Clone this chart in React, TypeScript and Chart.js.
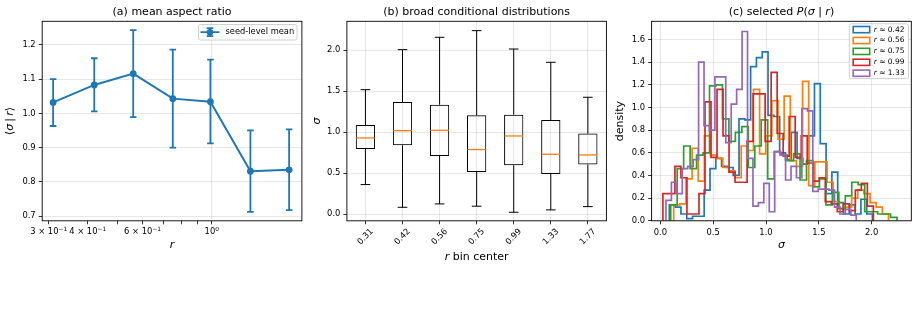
import React, { useEffect, useRef } from "react";
import { Chart, registerables } from "chart.js";

Chart.register(...registerables);

const FIG_W = 917;
const FIG_H = 317;
const FONT = "'DejaVu Sans', 'Noto Sans', sans-serif";
const TICK_SIZE = 8.4;
const LABEL_SIZE = 11;
const GRID = "rgba(176,176,176,0.38)";
const AXIS_W = 40; // room reserved for each y axis
const AXIS_H = 30; // room reserved for each x axis

const TAB_BLUE = "#1f77b4";
const TAB_ORANGE = "#ff7f0e";
const TAB_GREEN = "#2ca02c";
const TAB_RED = "#d62728";
const TAB_PURPLE = "#9467bd";

// ---- (a) mean aspect ratio per r bin ----
const rCenters = [0.31, 0.42, 0.56, 0.75, 0.99, 1.33, 1.77];
const meanSigma = [1.032, 1.083, 1.116, 1.043, 1.034, 0.831, 0.835];
const meanLow = [0.963, 1.006, 0.989, 0.9, 0.912, 0.712, 0.717];
const meanHigh = [1.1, 1.161, 1.243, 1.186, 1.157, 0.95, 0.953];
const rTicks = [0.3, 0.4, 0.5, 0.6, 0.7, 0.8, 0.9, 1.0];
// tick labels as mantissa and power of ten ("" = unlabelled minor tick)
const rTickMantissa = ["3 × 10", "4 × 10", "", "6 × 10", "", "", "", "10"];
const rTickPower = ["−1", "−1", "", "−1", "", "", "", "0"];
const meanTicks = [0.7, 0.8, 0.9, 1.0, 1.1, 1.2];

// ---- (b) conditional distributions ----
const binLabels = ["0.31", "0.42", "0.56", "0.75", "0.99", "1.33", "1.77"];
const boxMin = [0.362, 0.085, 0.126, 0.098, 0.024, 0.053, 0.093];
const boxQ1 = [0.797, 0.841, 0.711, 0.516, 0.598, 0.492, 0.606];
const boxMedian = [0.931, 1.02, 1.024, 0.789, 0.955, 0.732, 0.724];
const boxQ3 = [1.089, 1.37, 1.337, 1.207, 1.215, 1.15, 0.984];
const boxMax = [1.52, 2.008, 2.159, 2.24, 2.016, 1.854, 1.427];
const sigmaTicksB = [0, 0.5, 1.0, 1.5, 2.0];

// ---- (c) selected P(sigma | r): 35 equal bins between each sample's min and max ----
const histLabels = ["0.42", "0.56", "0.75", "0.99", "1.33"];
const histLo = [0.085, 0.126, 0.098, 0.024, 0.053];
const histHi = [2.008, 2.159, 2.24, 2.016, 1.854];
const densR042 = [0.14, 0.12, 0.06, 0.02, 0.04, 0.04, 0.27, 0.46, 0.55, 0.48, 0.47, 0.4, 0.9, 0.89, 1.36, 1.44, 1.49, 0.93, 0.92, 0.6, 0.54, 0.78, 0.55, 0.5, 0.75, 1.21, 0.68, 0.24, 0.43, 0.16, 0.06, 0.14, 0.06, 0.19, 0.06];
const densR056 = [0.14, 0.15, 0.37, 0.64, 0.35, 0.75, 0.58, 0.55, 0.47, 0.44, 0.38, 0.66, 0.62, 1.16, 0.59, 0.75, 1.06, 0.72, 1.1, 0.53, 0.48, 1.23, 0.31, 0.52, 0.52, 0.34, 0.17, 0.1, 0.12, 0.2, 0.27, 0.24, 0.16, 0.12, 0.06];
const densR075 = [0.14, 0.46, 0.66, 0.46, 0.58, 0.6, 1.19, 1.2, 0.9, 0.7, 0.78, 0.83, 0.47, 0.66, 0.89, 0.37, 0.61, 0.58, 0.53, 0.59, 0.36, 0.53, 0.3, 0.37, 0.14, 0.25, 0.11, 0.22, 0.34, 0.32, 0.08, 0.08, 0.06, 0.06, 0.03];
const densR099 = [0.24, 0.24, 0.48, 0.38, 0.06, 0.06, 0.24, 1.05, 0.56, 1.16, 0.75, 0.43, 0.34, 0.34, 0.7, 1.12, 1.12, 0.7, 1.31, 0.77, 0.57, 0.92, 0.56, 0.75, 0.51, 0.35, 0.38, 0.17, 0.15, 0.08, 0.15, 0.09, 0.27, 0.33, 0.13];
const densR133 = [0.18, 0.34, 0.24, 0.46, 0.48, 0.54, 1.4, 0.84, 0.8, 1.27, 1.27, 0.69, 1.03, 1.16, 1.67, 0.55, 0.13, 0.16, 0.33, 0.08, 0.61, 0.58, 0.36, 0.48, 0.38, 0.99, 0.97, 0.26, 0.28, 0.28, 0.27, 0.12, 0.06, 0.1, 0.05];
const histDensities = [densR042, densR056, densR075, densR099, densR133];
const histColors = [TAB_BLUE, TAB_ORANGE, TAB_GREEN, TAB_RED, TAB_PURPLE];
const sigmaTicksC = [0, 0.5, 1.0, 1.5, 2.0];
const densityTicks = [0, 0.2, 0.4, 0.6, 0.8, 1.0, 1.2, 1.4, 1.6];

// plot rectangles of the three panels (page pixels)
type Area = { left: number; top: number; right: number; bottom: number };
const AREA_A: Area = { left: 42.2, top: 21.3, right: 301.9, bottom: 220.8 };
const AREA_B: Area = { left: 346.9, top: 21.3, right: 606.4, bottom: 220.8 };
const AREA_C: Area = { left: 651.6, top: 21.3, right: 911.3, bottom: 220.8 };

type Run = { t: string; i?: boolean; sup?: boolean };

function drawRuns(
  ctx: CanvasRenderingContext2D,
  runs: Run[],
  x: number,
  y: number,
  size: number,
  opts: { align?: "center" | "left"; rotate?: number; baseline?: CanvasTextBaseline } = {}
) {
  ctx.save();
  const sizeOf = (r: Run) => (r.sup ? size * 0.7 : size);
  const fontOf = (r: Run) => `${r.i ? "italic " : ""}${sizeOf(r)}px ${FONT}`;
  let total = 0;
  const widths = runs.map((r) => {
    ctx.font = fontOf(r);
    const w = ctx.measureText(r.t).width;
    total += w;
    return w;
  });
  ctx.translate(x, y);
  if (opts.rotate) ctx.rotate(opts.rotate);
  ctx.textAlign = "left";
  ctx.textBaseline = opts.baseline ?? "alphabetic";
  ctx.fillStyle = "#000";
  let cx = opts.align === "left" ? 0 : -total / 2;
  runs.forEach((r, k) => {
    ctx.font = fontOf(r);
    ctx.fillText(r.t, cx, r.sup ? -size * 0.42 : 0);
    cx += widths[k];
  });
  ctx.restore();
}

function drawFrame(ctx: CanvasRenderingContext2D, a: Area) {
  ctx.save();
  ctx.strokeStyle = "#000";
  ctx.lineWidth = 0.9;
  ctx.strokeRect(a.left, a.top, a.right - a.left, a.bottom - a.top);
  ctx.restore();
}

function legendBox(ctx: CanvasRenderingContext2D, x: number, y: number, w: number, h: number) {
  const r = 2;
  ctx.save();
  ctx.beginPath();
  ctx.moveTo(x + r, y);
  ctx.lineTo(x + w - r, y);
  ctx.quadraticCurveTo(x + w, y, x + w, y + r);
  ctx.lineTo(x + w, y + h - r);
  ctx.quadraticCurveTo(x + w, y + h, x + w - r, y + h);
  ctx.lineTo(x + r, y + h);
  ctx.quadraticCurveTo(x, y + h, x, y + h - r);
  ctx.lineTo(x, y + r);
  ctx.quadraticCurveTo(x, y, x + r, y);
  ctx.closePath();
  ctx.fillStyle = "rgba(255,255,255,0.85)";
  ctx.fill();
  ctx.strokeStyle = "#d0d0d0";
  ctx.lineWidth = 1;
  ctx.stroke();
  ctx.restore();
}

function layoutFor(a: Area) {
  return {
    autoPadding: false,
    padding: {
      left: a.left - AXIS_W,
      top: a.top,
      right: FIG_W - a.right,
      bottom: FIG_H - a.bottom - AXIS_H,
    },
  };
}

function axis(kind: "x" | "y", type: string, ticks: number[] | null, fmt: (v: number, i: number) => string, gridColor: any = GRID) {
  const cfg: any = {
    type,
    afterFit: (s: any) => {
      if (kind === "y") s.width = AXIS_W;
      else s.height = AXIS_H;
      s.paddingLeft = 0;
      s.paddingRight = 0;
      s.paddingTop = 0;
      s.paddingBottom = 0;
    },
    border: { display: false },
    grid: {
      color: gridColor,
      lineWidth: 0.8,
      drawTicks: true,
      tickLength: 3.5,
      tickColor: "#000",
      tickWidth: 0.8,
    },
    ticks: {
      autoSkip: false,
      maxRotation: 0,
      minRotation: 0,
      padding: 3,
      color: "#000",
      font: { family: FONT, size: TICK_SIZE },
      callback: (v: any, i: number) => fmt(Number(v), i),
    },
  };
  if (ticks) {
    cfg.afterBuildTicks = (s: any) => {
      s.ticks = ticks.map((v) => ({ value: v }));
    };
  }
  return cfg;
}

function stepOutline(lo: number, hi: number, dens: number[]) {
  const n = dens.length;
  const edge = (k: number) => lo + ((hi - lo) * k) / n;
  const pts = [{ x: edge(0), y: 0 }];
  dens.forEach((d, k) => {
    pts.push({ x: edge(k), y: d }, { x: edge(k + 1), y: d });
  });
  pts.push({ x: edge(n), y: 0 });
  return pts;
}

const baseOptions = {
  responsive: false,
  animation: false as const,
  devicePixelRatio: 1,
  events: [] as any[],
  plugins: { legend: { display: false }, tooltip: { enabled: false }, title: { display: false } },
};

// ---------------- panel (a) ----------------
const ERR_CAP = 3.3;
const panelAPlugin = {
  id: "panelA",
  beforeDatasetsDraw(chart: any) {
    const { ctx } = chart;
    const x = chart.scales.x;
    const y = chart.scales.y;
    ctx.save();
    ctx.strokeStyle = TAB_BLUE;
    ctx.lineWidth = 1.8;
    rCenters.forEach((r, i) => {
      const px = x.getPixelForValue(r);
      const lo = y.getPixelForValue(meanLow[i]);
      const hi = y.getPixelForValue(meanHigh[i]);
      ctx.beginPath();
      ctx.moveTo(px, lo);
      ctx.lineTo(px, hi);
      ctx.moveTo(px - ERR_CAP, lo);
      ctx.lineTo(px + ERR_CAP, lo);
      ctx.moveTo(px - ERR_CAP, hi);
      ctx.lineTo(px + ERR_CAP, hi);
      ctx.stroke();
    });
    ctx.restore();
  },
  afterDraw(chart: any) {
    const { ctx, chartArea: a } = chart;
    const x = chart.scales.x;
    drawFrame(ctx, a);
    const cx = (a.left + a.right) / 2;
    const cy = (a.top + a.bottom) / 2;
    // log-axis tick labels with raised exponents
    rTicks.forEach((v, i) => {
      if (!rTickMantissa[i]) return;
      drawRuns(ctx, [{ t: rTickMantissa[i] }, { t: rTickPower[i], sup: true }], x.getPixelForValue(v), a.bottom + 13.4, TICK_SIZE);
    });
    drawRuns(ctx, [{ t: "(a) mean aspect ratio" }], cx, a.top - 6.8, LABEL_SIZE);
    drawRuns(ctx, [{ t: "r", i: true }], cx, a.bottom + 27, LABEL_SIZE);
    drawRuns(
      ctx,
      [{ t: "⟨" }, { t: "σ", i: true }, { t: "\u2009|\u2009" }, { t: "r", i: true }, { t: "⟩" }],
      a.left - 29.7,
      cy,
      LABEL_SIZE,
      { rotate: -Math.PI / 2 }
    );
    // legend
    const lx = a.right - 103.4;
    const ly = a.top + 3.2;
    legendBox(ctx, lx, ly, 98.5, 15.5);
    const gy = ly + 7.7;
    const gx = lx + 11.5;
    ctx.save();
    ctx.strokeStyle = TAB_BLUE;
    ctx.lineWidth = 1.8;
    ctx.beginPath();
    ctx.moveTo(lx + 2, gy);
    ctx.lineTo(lx + 21, gy);
    ctx.moveTo(gx, gy - 4);
    ctx.lineTo(gx, gy + 4);
    ctx.moveTo(gx - ERR_CAP, gy - 4);
    ctx.lineTo(gx + ERR_CAP, gy - 4);
    ctx.moveTo(gx - ERR_CAP, gy + 4);
    ctx.lineTo(gx + ERR_CAP, gy + 4);
    ctx.stroke();
    ctx.fillStyle = TAB_BLUE;
    ctx.beginPath();
    ctx.arc(gx, gy, 3.3, 0, Math.PI * 2);
    ctx.fill();
    ctx.restore();
    drawRuns(ctx, [{ t: "seed-level mean" }], lx + 27, gy, 8.3, { align: "left", baseline: "middle" });
  },
};

function buildA(canvas: HTMLCanvasElement) {
  return new Chart(canvas, {
    type: "scatter",
    data: {
      datasets: [
        {
          label: "seed-level mean",
          data: rCenters.map((r, i) => ({ x: r, y: meanSigma[i] })),
          showLine: true,
          borderColor: TAB_BLUE,
          borderWidth: 2,
          pointRadius: 3.4,
          pointBackgroundColor: TAB_BLUE,
          pointBorderColor: TAB_BLUE,
          pointBorderWidth: 0,
        },
      ],
    },
    options: {
      ...baseOptions,
      layout: layoutFor(AREA_A),
      scales: {
        x: {
          ...axis("x", "logarithmic", rTicks, () => "", (c: any) =>
            c.tick && Math.abs(c.tick.value - 1) < 1e-9 ? GRID : "rgba(0,0,0,0)"
          ),
          min: 0.286,
          max: 1.945,
        },
        y: { ...axis("y", "linear", meanTicks, (v) => v.toFixed(1)), min: 0.686, max: 1.269 },
      },
    },
    plugins: [panelAPlugin],
  } as any);
}

// ---------------- panel (b) ----------------
const BOX_FRACTION = 0.52;
const panelBPlugin = {
  id: "panelB",
  afterDatasetsDraw(chart: any) {
    const { ctx } = chart;
    const x = chart.scales.x;
    const y = chart.scales.y;
    const step = x.getPixelForValue(1) - x.getPixelForValue(0);
    const boxHalf = (step * BOX_FRACTION) / 2;
    const capHalf = boxHalf / 2;
    ctx.save();
    binLabels.forEach((_, i) => {
      const px = x.getPixelForValue(i);
      const yMin = y.getPixelForValue(boxMin[i]);
      const yQ1 = y.getPixelForValue(boxQ1[i]);
      const yQ3 = y.getPixelForValue(boxQ3[i]);
      const yMax = y.getPixelForValue(boxMax[i]);
      ctx.strokeStyle = "#000";
      ctx.lineWidth = 1;
      ctx.beginPath();
      ctx.moveTo(px, yQ1);
      ctx.lineTo(px, yMin);
      ctx.moveTo(px, yQ3);
      ctx.lineTo(px, yMax);
      ctx.moveTo(px - capHalf, yMin);
      ctx.lineTo(px + capHalf, yMin);
      ctx.moveTo(px - capHalf, yMax);
      ctx.lineTo(px + capHalf, yMax);
      ctx.stroke();
      const yMed = y.getPixelForValue(boxMedian[i]);
      ctx.strokeStyle = TAB_ORANGE;
      ctx.lineWidth = 1.3;
      ctx.beginPath();
      ctx.moveTo(px - boxHalf + 0.5, yMed);
      ctx.lineTo(px + boxHalf - 0.5, yMed);
      ctx.stroke();
    });
    ctx.restore();
  },
  afterDraw(chart: any) {
    const { ctx, chartArea: a } = chart;
    drawFrame(ctx, a);
    const x = chart.scales.x;
    const cx = (a.left + a.right) / 2;
    const cy = (a.top + a.bottom) / 2;
    // 45° tick labels centred under their ticks
    ctx.save();
    ctx.font = `${TICK_SIZE}px ${FONT}`;
    binLabels.forEach((lab, i) => {
      const w = ctx.measureText(lab).width;
      const half = ((w + TICK_SIZE) * Math.SQRT1_2) / 2;
      ctx.save();
      ctx.translate(x.getPixelForValue(i), a.bottom + 6.5 + half);
      ctx.rotate(-Math.PI / 4);
      ctx.fillStyle = "#000";
      ctx.textAlign = "center";
      ctx.textBaseline = "middle";
      ctx.fillText(lab, 0, 0);
      ctx.restore();
    });
    ctx.restore();
    drawRuns(ctx, [{ t: "(b) broad conditional distributions" }], cx, a.top - 6.8, LABEL_SIZE);
    drawRuns(ctx, [{ t: "r", i: true }, { t: " bin center" }], cx, a.bottom + 39, LABEL_SIZE);
    drawRuns(ctx, [{ t: "σ", i: true }], a.left - 26.9, cy, LABEL_SIZE, { rotate: -Math.PI / 2 });
  },
};

function buildB(canvas: HTMLCanvasElement) {
  const xAxis = axis("x", "category", null, () => "");
  xAxis.grid.offset = false;
  xAxis.offset = true;
  return new Chart(canvas, {
    type: "bar",
    data: {
      labels: binLabels,
      datasets: [
        {
          label: "IQR",
          data: binLabels.map((_, i) => [boxQ1[i], boxQ3[i]]),
          backgroundColor: "rgba(0,0,0,0)",
          borderColor: "#000",
          borderWidth: 1,
          borderSkipped: false,
          barPercentage: BOX_FRACTION,
          categoryPercentage: 1,
        },
      ],
    },
    options: {
      ...baseOptions,
      layout: layoutFor(AREA_B),
      scales: {
        x: xAxis,
        y: { ...axis("y", "linear", sigmaTicksB, (v) => v.toFixed(1)), min: -0.08, max: 2.354 },
      },
    },
    plugins: [panelBPlugin],
  } as any);
}

// ---------------- panel (c) ----------------
const panelCPlugin = {
  id: "panelC",
  afterDraw(chart: any) {
    const { ctx, chartArea: a } = chart;
    drawFrame(ctx, a);
    const cx = (a.left + a.right) / 2;
    const cy = (a.top + a.bottom) / 2;
    drawRuns(
      ctx,
      [{ t: "(c) selected " }, { t: "P", i: true }, { t: "(" }, { t: "σ", i: true }, { t: " | " }, { t: "r", i: true }, { t: ")" }],
      cx,
      a.top - 6.8,
      LABEL_SIZE
    );
    drawRuns(ctx, [{ t: "σ", i: true }], cx, a.bottom + 27, LABEL_SIZE);
    drawRuns(ctx, [{ t: "density" }], a.left - 29, cy, LABEL_SIZE, { rotate: -Math.PI / 2 });
    // legend
    const lx = a.right - 62;
    const ly = a.top + 2.5;
    legendBox(ctx, lx, ly, 59.2, 54.8);
    histLabels.forEach((lab, k) => {
      const ey = ly + 5.8 + k * 10.9;
      ctx.save();
      ctx.strokeStyle = histColors[k];
      ctx.lineWidth = 1.6;
      ctx.strokeRect(lx + 3.9, ey - 3.1, 16.5, 6.2);
      ctx.restore();
      drawRuns(ctx, [{ t: "r", i: true }, { t: " ≈ " + lab }], lx + 24.4, ey, 7.5, { align: "left", baseline: "middle" });
    });
  },
};

function buildC(canvas: HTMLCanvasElement) {
  return new Chart(canvas, {
    type: "scatter",
    data: {
      datasets: histDensities.map((dens, k) => ({
        label: "r ≈ " + histLabels[k],
        data: stepOutline(histLo[k], histHi[k], dens),
        showLine: true,
        borderColor: histColors[k],
        borderWidth: 1.7,
        pointRadius: 0,
        tension: 0,
        fill: false,
        order: histDensities.length - k,
      })),
    },
    options: {
      ...baseOptions,
      layout: layoutFor(AREA_C),
      scales: {
        x: { ...axis("x", "linear", sigmaTicksC, (v) => v.toFixed(1)), min: -0.083, max: 2.375 },
        y: { ...axis("y", "linear", densityTicks, (v) => v.toFixed(1)), min: 0, max: 1.76 },
      },
    },
    plugins: [panelCPlugin],
  } as any);
}

function PanelCanvas({ build }: { build: (c: HTMLCanvasElement) => Chart }) {
  const ref = useRef<HTMLCanvasElement>(null);
  useEffect(() => {
    if (!ref.current) return;
    const chart = build(ref.current);
    return () => chart.destroy();
  }, [build]);
  return (
    <canvas
      ref={ref}
      width={FIG_W}
      height={FIG_H}
      style={{ position: "absolute", left: 0, top: 0, width: FIG_W, height: FIG_H }}
    />
  );
}

export default function App() {
  return (
    <div
      style={{
        position: "fixed",
        left: 0,
        top: 0,
        width: FIG_W,
        height: FIG_H,
        background: "#fff",
        overflow: "hidden",
      }}
    >
      <PanelCanvas build={buildA} />
      <PanelCanvas build={buildB} />
      <PanelCanvas build={buildC} />
    </div>
  );
}
